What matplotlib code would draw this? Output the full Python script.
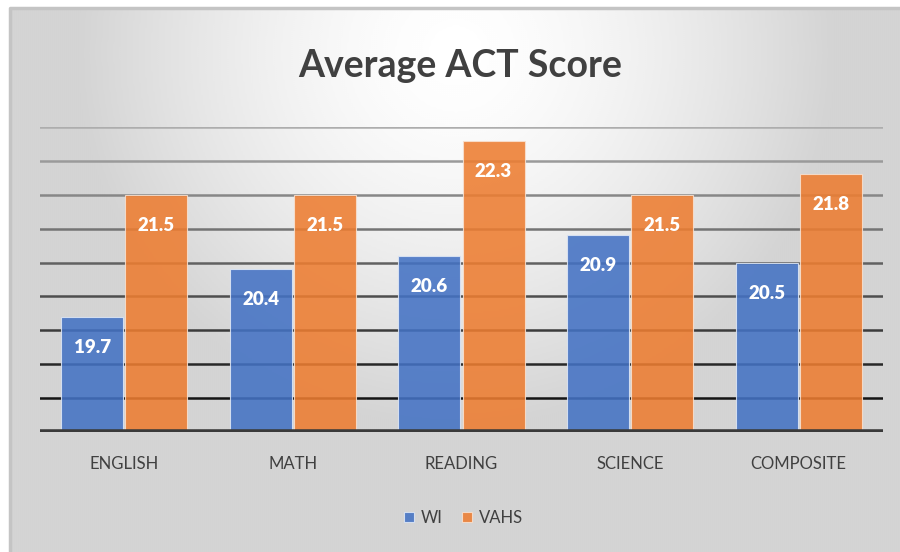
import matplotlib
matplotlib.use("Agg")
import matplotlib.pyplot as plt
import numpy as np

categories = ["ENGLISH", "MATH", "READING", "SCIENCE", "COMPOSITE"]
wi_scores = [19.7, 20.4, 20.6, 20.9, 20.5]
vahs_scores = [21.5, 21.5, 22.3, 21.5, 21.8]
series_names = ["WI", "VAHS"]

BLUE = "#4472C4"
ORANGE = "#ED7D31"
TEXT = "#404040"

plt.rcParams["font.family"] = ["Lato", "DejaVu Sans"]

fig = plt.figure(figsize=(9, 5.52), dpi=100)
fig.patch.set_facecolor("white")

# radial gradient panel behind the chart (its right and bottom edges run off the image)
bg = fig.add_axes([10 / 900, 0, 890 / 900, 544 / 552], zorder=-10)
h, w = 272, 445
yy, xx = np.mgrid[0:h, 0:w]
cx, cy = w * 0.5, h * 0.08
r = np.sqrt(((xx - cx) / w) ** 2 + ((yy - cy) / h * 0.62) ** 2)
shade = np.clip(1.0 - 0.30 * (r / 0.62) ** 1.5, 0.83, 1.0)
bg.imshow(shade, cmap="gray", vmin=0, vmax=1, aspect="auto",
          extent=[0, 1, 0, 1], interpolation="bicubic")
bg.plot([0, 0, 1], [0, 1, 1], transform=bg.transAxes, color="#c4c4c4",
        linewidth=2.5, clip_on=False)
bg.set_xlim(0, 1)
bg.set_ylim(0, 1)
bg.set_axis_off()

ax = fig.add_axes([40 / 900, 1 - 432 / 552, 843 / 900, 305 / 552])
ax.set_facecolor("none")

x = np.arange(len(categories))
width = 0.368
gap = 0.006

# gridlines darken toward the bottom
grid_vals = np.arange(18.5, 22.51, 0.5)
for i, gv in enumerate(grid_vals):
    t = i / (len(grid_vals) - 1)
    c = 0.08 + 0.6 * t
    ax.axhline(gv, color=(c, c, c), linewidth=1.8, zorder=1)

b1 = ax.bar(x - width / 2 - gap, wi_scores, width, bottom=0, color=BLUE,
            alpha=0.88, edgecolor="#dde6f5", linewidth=0.8, zorder=2,
            label=series_names[0])
b2 = ax.bar(x + width / 2 + gap, vahs_scores, width, bottom=0, color=ORANGE,
            alpha=0.88, edgecolor="#f8e0cf", linewidth=0.8, zorder=2,
            label=series_names[1])

for bars in (b1, b2):
    for bar in bars:
        hgt = bar.get_height()
        ax.text(bar.get_x() + bar.get_width() / 2, hgt - 0.45, f"{hgt:.1f}",
                ha="center", va="center", fontsize=13.5, fontweight="heavy",
                color="white", zorder=3)

ax.axhline(18, color="#3a3a3a", linewidth=4, zorder=4)
ax.set_ylim(18, 22.5)
ax.set_xlim(-0.5, len(categories) - 0.5)
ax.set_yticks([])
ax.set_xticks(x)
ax.set_xticklabels(categories, fontsize=12, color=TEXT)
ax.tick_params(axis="x", length=0, pad=17)
for s in ax.spines.values():
    s.set_visible(False)

fig.text(0.511, 1 - 66 / 552, "Average ACT Score", ha="center", va="center",
         fontsize=27, fontweight="bold", color=TEXT)

leg = fig.legend(handles=[b1, b2], labels=series_names, loc="center",
                 bbox_to_anchor=(0.515, 1 - 518 / 552), ncol=2, frameon=False,
                 fontsize=12, handlelength=0.6, handleheight=0.6,
                 handletextpad=0.4, columnspacing=1.2, labelcolor=TEXT)

fig.savefig("out.png", dpi=100, facecolor=fig.get_facecolor())
